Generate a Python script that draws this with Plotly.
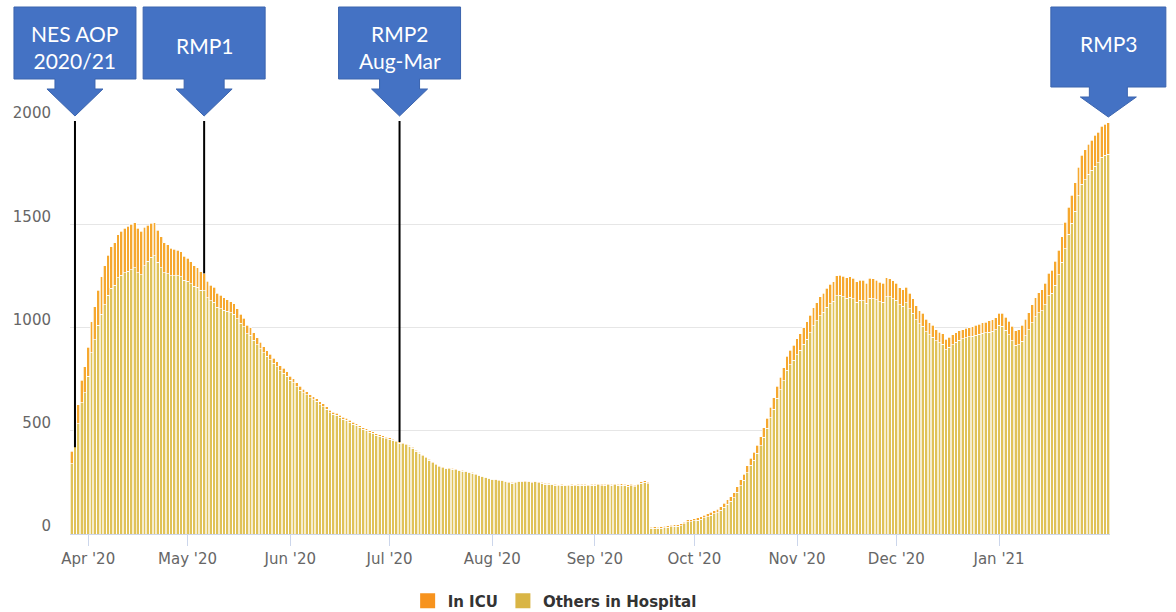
import pandas as pd
import plotly.graph_objects as go

# Daily COVID-19 hospital occupancy, 27 Mar 2020 onwards
start_date = "2020-03-27"

in_icu = [
    60, 75, 90, 110, 125, 140, 150, 160, 170, 180,
    190, 195, 200, 205, 210, 212, 215, 218, 220, 218,
    215, 210, 185, 175, 165, 160, 155, 150, 145, 140,
    135, 130, 125, 120, 115, 110, 105, 100, 95, 90,
    85, 80, 76, 72, 68, 64, 60, 57, 54, 51,
    48, 45, 42, 40, 38, 36, 34, 32, 30, 28,
    27, 26, 25, 24, 23, 22, 21, 20, 19, 18,
    17, 16, 16, 15, 14, 13, 13, 12, 12, 11,
    11, 10, 10, 10, 9, 9, 9, 8, 8, 8,
    8, 7, 7, 7, 7, 6, 6, 6, 6, 6,
    6, 6, 5, 5, 5, 5, 5, 5, 4, 4,
    4, 4, 4, 4, 4, 4, 4, 4, 4, 4, 4,
    3, 4, 3, 3, 4, 3, 3, 3, 4, 3,
    3, 3, 4, 3, 3, 3, 4, 4, 3, 3,
    3, 4, 3, 3, 3, 4, 4, 5, 4, 4,
    4, 5, 4, 4, 5, 5, 4, 5, 5, 6,
    5, 5, 6, 5, 6, 6, 5, 6, 6, 7,
    6, 7, 7, 6,
    5, 5, 6, 6, 6, 7, 7, 7, 8, 8, 9, 9, 10, 10, 11, 12,
    12, 13, 14, 15, 16, 17, 19, 20, 22, 24, 26, 28, 30, 33, 36,
    38, 40, 43, 46, 49, 52, 55, 58, 61, 64, 67, 70, 73, 76, 79,
    81, 83, 85, 87, 88, 90, 92, 93, 94, 95, 96, 97, 98, 98, 99,
    99, 100, 99, 98, 98, 97, 96, 95, 94, 92, 90, 88, 86, 84, 82,
    80, 77, 74, 71, 68, 65, 62, 60, 58, 56, 54, 52, 50, 49, 48,
    47, 46, 46, 45, 45, 45, 46, 47, 48, 50, 52, 54, 56, 58, 60,
    62, 64, 66, 68, 70, 73, 76, 80, 84, 88, 92, 96, 100, 104, 108,
    112, 116, 120, 124, 128,
    131, 134, 137, 140, 142, 144, 146, 147, 148, 149, 150, 151, 152,
]

others_in_hospital = [
    340, 485, 535, 635, 685, 765, 877, 940, 1010, 1065,
    1110, 1155, 1190, 1205, 1240, 1253, 1265, 1272, 1280, 1290,
    1265, 1255, 1300, 1320, 1341, 1348, 1315, 1290, 1265, 1260,
    1250, 1250, 1250, 1246, 1230, 1225, 1213, 1200, 1195, 1180,
    1177, 1145, 1129, 1123, 1097, 1091, 1083, 1078, 1071, 1064,
    1042, 1020, 1003, 970, 962, 939, 916, 896, 878, 860,
    843, 826, 810, 791, 779, 764, 744, 732, 713, 697,
    683, 674, 659, 649, 642, 627, 617, 604, 588, 579,
    574, 565, 555, 550, 541, 531, 526, 517, 507, 502,
    492, 488, 478, 473, 468, 462, 459, 454, 446, 440,
    436, 432, 425, 415, 400, 390, 380, 370, 358, 346,
    336, 326, 321, 318, 316, 314, 311, 308, 304, 301, 296,
    295, 288, 285, 279, 274, 269, 265, 262, 258, 257,
    252, 249, 246, 249, 252, 252, 254, 252, 249, 255,
    249, 246, 242, 242, 240, 236, 234, 235, 233, 234,
    236, 233, 236, 236, 237, 233, 236, 237, 238, 234,
    237, 239, 236, 239, 236, 237, 237, 232, 234, 229,
    238, 245, 251, 244,
    27, 29, 27, 29, 31, 32, 35, 37, 38, 41, 49, 59, 60, 63, 67, 71,
    78, 84, 91, 97, 104, 115, 129, 145, 158, 176, 202, 234, 260, 297, 332,
    357, 390, 427, 469, 511, 563, 605, 657, 699, 741, 793, 820, 842, 869, 891,
    919, 944, 975, 1008, 1032, 1058, 1073, 1097, 1116, 1127, 1154, 1157, 1150, 1142, 1146,
    1139, 1122, 1131, 1130, 1117, 1141, 1140, 1135, 1124, 1122, 1150, 1148, 1140, 1131, 1110,
    1102, 1119, 1091, 1069, 1037, 1017, 1006, 980, 964, 954, 936, 926, 920, 893, 904,
    917, 929, 938, 945, 951, 955, 958, 963, 968, 972, 974, 978, 982, 990, 1010,
    1006, 986, 964, 937, 915, 917, 934, 960, 988, 1022, 1053, 1072, 1082, 1111, 1154,
    1166, 1204, 1255, 1316, 1382,
    1452, 1506, 1563, 1637, 1693, 1716, 1742, 1761, 1782, 1797, 1825, 1834, 1840,
]

assert len(in_icu) == len(others_in_hospital)
dates = pd.date_range(start_date, periods=len(in_icu), freq="D")

month_ticks = ["2020-04-01", "2020-05-01", "2020-06-01", "2020-07-01", "2020-08-01",
               "2020-09-01", "2020-10-01", "2020-11-01", "2020-12-01", "2021-01-01"]
month_labels = ["Apr '20", "May '20", "Jun '20", "Jul '20", "Aug '20",
                "Sep '20", "Oct '20", "Nov '20", "Dec '20", "Jan '21"]
y_ticks = [0, 500, 1000, 1500, 2000]

# Plan milestones: label, date pointed at, occupancy level the marker line drops to
milestone_labels = ["NES AOP<br>2020/21", "RMP1", "RMP2<br>Aug-Mar", "RMP3"]
milestone_dates = ["2020-03-28", "2020-05-06", "2020-07-04", "2021-02-03"]
milestone_levels = [420, 1262, 446, None]

COL_ICU = "#F6A82E"
COL_OTHERS = "#E0C258"
LEGEND_ICU = "#F7931E"
LEGEND_OTHERS = "#D9B545"
CALLOUT_BLUE = "#4472C4"

x_range = [dates[0] - pd.Timedelta(hours=12), dates[-1] + pd.Timedelta(hours=12)]

fig = go.Figure()
fig.add_trace(go.Bar(
    x=dates, y=others_in_hospital, name="Others in Hospital", showlegend=False,
    marker=dict(color=COL_OTHERS, line=dict(color="white", width=0.7)),
))
fig.add_trace(go.Bar(
    x=dates, y=in_icu, name="In ICU", showlegend=False,
    marker=dict(color=COL_ICU, line=dict(color="white", width=0.7)),
))
# Legend entries with larger square swatches
for name, col in [("In ICU", LEGEND_ICU), ("Others in Hospital", LEGEND_OTHERS)]:
    fig.add_trace(go.Scatter(
        x=[None], y=[None], mode="markers", name=name,
        marker=dict(symbol="square", size=15, color=col),
    ))


def paper_x(date):
    d = pd.Timestamp(date)
    return (d - x_range[0]) / (x_range[1] - x_range[0])


def callout_path(bw, bt, bb, sw, sb, hw, tip):
    return (f"M{-bw},{bt} L{bw},{bt} L{bw},{bb} L{sw},{bb} L{sw},{sb} L{hw},{sb} "
            f"L0,{tip} L{-hw},{sb} L{-sw},{sb} L{-sw},{bb} L{-bw},{bb} Z")


shapes = []
annotations = []
for k, (label, date, level) in enumerate(zip(milestone_labels, milestone_dates, milestone_levels)):
    if level is not None:
        shapes.append(dict(type="line", xref="x", yref="y", x0=date, x1=date,
                           y0=level, y1=y_ticks[-1], line=dict(color="black", width=2),
                           layer="above"))
    if k == len(milestone_labels) - 1:
        path = callout_path(57.5, 114, 34, 19, 24, 28, 4)
        shift = 78
    else:
        path = callout_path(61, 114, 42, 20, 32, 28, 5)
        shift = 74 if "<br>" in label else 76
    shapes.append(dict(type="path", xref="paper", yref="paper",
                       xsizemode="pixel", ysizemode="pixel",
                       xanchor=paper_x(date), yanchor=1, path=path,
                       fillcolor=CALLOUT_BLUE, line=dict(color="#3B64AE", width=1),
                       layer="above"))
    annotations.append(dict(text=label, x=date, xref="x", y=1, yref="paper",
                            yshift=shift, showarrow=False, xanchor="center",
                            yanchor="middle", align="center",
                            font=dict(family="Lato", size=21, color="white")))

fig.update_layout(
    width=1176, height=612,
    margin=dict(l=70, r=66, t=121, b=78),
    paper_bgcolor="white", plot_bgcolor="white",
    barmode="stack", bargap=0.14,
    showlegend=True,
    legend=dict(orientation="h", x=0.466, xanchor="center",
                yref="container", y=0.018, yanchor="middle",
                traceorder="normal", itemwidth=30, tracegroupgap=0,
                font=dict(family="DejaVu Sans", size=15, color="#333333", weight="bold")),
    shapes=shapes,
    annotations=annotations,
    font=dict(family="DejaVu Sans", color="#666666"),
)
fig.update_xaxes(
    type="date", range=x_range,
    tickvals=month_ticks, ticktext=month_labels,
    ticks="outside", ticklen=11, tickcolor="#ccd6eb", tickwidth=1,
    showgrid=False, showline=True, linecolor="#ccd6eb", zeroline=False,
    tickfont=dict(family="DejaVu Sans", size=15, color="#666666"),
)
fig.update_yaxes(
    range=[0, 2000], tickvals=y_ticks,
    showgrid=True, gridcolor="#e6e6e6", gridwidth=1, zeroline=False,
    ticks="", ticklabelstandoff=18, ticklabelshift=-8,
    tickfont=dict(family="DejaVu Sans", size=15, color="#666666"),
)

fig.write_html("out.html")
